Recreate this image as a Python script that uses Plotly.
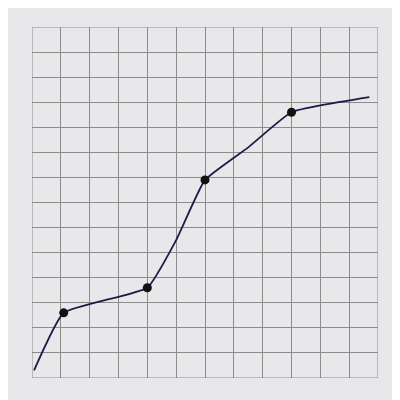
import plotly.graph_objects as go

line_x = [0.07, 1.1, 4.0, 5.0, 6.0, 7.5, 9.0, 11.7]
line_y = [0.3, 2.6, 3.6, 5.5, 7.9, 9.2, 10.6, 11.2]
pt_x = [1.1, 4.0, 6.0, 9.0]
pt_y = [2.6, 3.6, 7.9, 10.6]

fig = go.Figure()
fig.add_trace(go.Scatter(x=line_x, y=line_y, mode="lines",
                         line=dict(color="#1e1a4a", width=1.8, shape="spline", smoothing=0.4)))
fig.add_trace(go.Scatter(x=pt_x, y=pt_y, mode="markers",
                         marker=dict(color="#111111", size=9)))
ax = dict(showticklabels=False, showline=False, zeroline=False, showgrid=True,
          gridcolor="#8c8c8c", gridwidth=1, dtick=1, fixedrange=True)
fig.update_layout(width=392, height=392, showlegend=False,
                  margin=dict(l=24, r=22, t=19, b=22),
                  paper_bgcolor="#e8e8ea", plot_bgcolor="#e8e8ea",
                  xaxis=dict(range=[0, 12], **ax),
                  yaxis=dict(range=[0, 14], **ax))
fig.add_shape(type="rect", xref="x", yref="y", x0=0, x1=12, y0=0, y1=14,
              line=dict(color="#8c8c8c", width=1))
fig.write_html("out.html", config={"displayModeBar": False})
